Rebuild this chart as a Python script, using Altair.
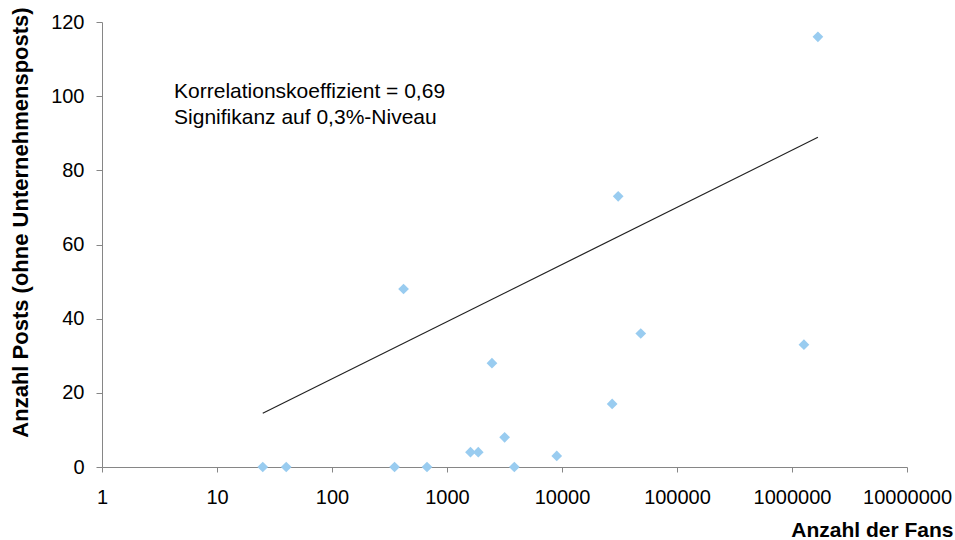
import altair as alt
import pandas as pd

# Data
fans = [25, 40, 350, 670, 1600, 1870, 2460, 3170, 3850, 9000, 27300, 30800, 48400, 1270000, 1680000, 419]
posts = [0, 0, 0, 0, 4, 4, 28, 8, 0, 3, 17, 73, 36, 33, 116, 48]

trend_fans = [25, 1680000]
trend_posts = [14.5, 88.9]

note_lines = ["Korrelationskoeffizient = 0,69", "Signifikanz auf 0,3%-Niveau"]
note_fans = [4.23, 4.23]
note_posts = [99.4, 92.5]

x_ticks = [1, 10, 100, 1000, 10000, 100000, 1000000, 10000000]
y_ticks = [0, 20, 40, 60, 80, 100, 120]

FONT = "Liberation Sans"
GRAY = "#868686"

points = pd.DataFrame({"fans": fans, "posts": posts})
trend = pd.DataFrame({"fans": trend_fans, "posts": trend_posts})
notes = pd.DataFrame({"fans": note_fans, "posts": note_posts, "text": note_lines})

xscale = alt.Scale(type="log", domain=[1, 10000000], nice=False)
yscale = alt.Scale(domain=[0, 120], nice=False, zero=True)

x_axis = alt.Axis(
    values=x_ticks, format="d", grid=False,
    domainColor=GRAY, tickColor=GRAY, tickSize=5,
    labelFont=FONT, labelFontSize=20, labelColor="black", labelPadding=15,
    labelFlush=False, labelOverlap=False,
    title="Anzahl der Fans", titleFont=FONT, titleFontSize=21, titleFontWeight="bold",
    titleColor="black", titleAnchor="end", titleAlign="right",
    titleX=851, titleY=69, titleBaseline="alphabetic",
)
y_axis = alt.Axis(
    values=y_ticks, grid=False,
    domainColor=GRAY, tickColor=GRAY, tickSize=6,
    labelFont=FONT, labelFontSize=20, labelColor="black", labelPadding=12,
    labelFlush=False, labelOverlap=False,
    title="Anzahl Posts (ohne Unternehmensposts)", titleFont=FONT, titleFontSize=22,
    titleFontWeight="bold", titleColor="black", titleAngle=270, titleAlign="center",
    titleX=-75, titleY=200, titleBaseline="alphabetic",
)

base_x = alt.X("fans:Q", scale=xscale, axis=x_axis)
base_y = alt.Y("posts:Q", scale=yscale, axis=y_axis)

pts = alt.Chart(points).mark_point(
    shape="diamond", filled=True, size=115, color="#99CCF0", opacity=1
).encode(x=base_x, y=base_y)

line = alt.Chart(trend).mark_line(color="#222222", strokeWidth=1.2).encode(
    x=alt.X("fans:Q", scale=xscale),
    y=alt.Y("posts:Q", scale=yscale),
)

txt = alt.Chart(notes).mark_text(
    align="left", baseline="alphabetic", font=FONT, fontSize=21, color="black"
).encode(
    x=alt.X("fans:Q", scale=xscale),
    y=alt.Y("posts:Q", scale=yscale),
    text="text:N",
)

chart = alt.layer(line, pts, txt).properties(
    width=805, height=445,
    autosize=alt.AutoSizeParams(type="none"),
    padding={"left": 102, "top": 22, "right": 48, "bottom": 73},
    background="white",
).configure_view(stroke=None)

chart.save("out.html", embed_options={"renderer": "svg", "actions": False})
